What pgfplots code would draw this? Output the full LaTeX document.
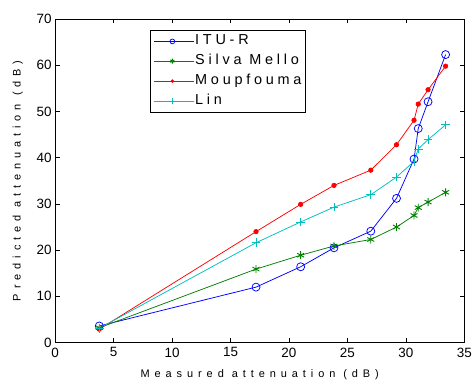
\documentclass[border=0pt]{standalone}
\usepackage{pgfplots}
\pgfplotsset{compat=1.18}
\usepackage{fontspec}
\setmainfont{Liberation Sans}
\newfontfamily\legfont[LetterSpace=26]{Liberation Sans}
\newfontfamily\labfont[LetterSpace=45]{Liberation Sans}
\definecolor{mblue}{rgb}{0,0,1}
\definecolor{mgreen}{rgb}{0,0.5,0}
\definecolor{mred}{rgb}{1,0,0}
\definecolor{mcyan}{rgb}{0,0.75,0.75}
\begin{document}
\begin{tikzpicture}
\begin{axis}[
  scale only axis,
  width=409.1bp, height=323.6bp,
  xmin=0, xmax=35, ymin=0, ymax=70,
  xtick={0,5,...,35}, ytick={0,10,...,70},
  tick align=inside,
  major tick length=4.5bp,
  every tick/.style={black, line width=0.6pt},
  axis line style={black, line width=0.9pt},
  /pgf/number format/assume math mode=true,
  tick label style={font=\fontsize{13.5}{15}\selectfont},
  xticklabel style={yshift=-1.5bp},
  xlabel={Measured attenuation (dB)},
  ylabel={Predicted attenuation (dB)},
  xlabel style={font=\labfont\fontsize{11}{12}\selectfont, at={(rel axis cs:0.5,-0.1094)}, anchor=base},
  ylabel style={font=\labfont\fontsize{11}{12}\selectfont, at={(rel axis cs:-0.0844,0.5)}, anchor=base},
  legend style={font=\legfont\fontsize{14.5}{16}\selectfont, draw=black, line width=0.9pt,
    at={(0.2318,0.966)}, anchor=north west, inner xsep=3bp, inner ysep=3.5bp,
    row sep=4.5bp, nodes={inner sep=1bp, text depth=3bp}},
  legend cell align=left,
  legend image code/.code={\draw[mark repeat=2, mark phase=2, every mark/.append style={scale=0.6}] plot coordinates {(0bp,0bp) (18.5bp,0bp) (37bp,0bp)}; \path (0bp,0bp) -- (40bp,0bp);},
]
\addplot[mblue, line width=0.75pt, mark=o, mark size=4bp, mark options={line width=0.75pt}] coordinates {
(3.77,3.6) (17.18,12.0) (21.0,16.4) (23.85,20.5) (27.0,24.1) (29.2,31.2) (30.7,39.7) (31.06,46.3) (31.9,52.1) (33.4,62.3)};
\addlegendentry{ITU-R}
\addplot[mgreen, line width=0.75pt, mark=asterisk, mark size=4bp, mark options={line width=0.9pt}] coordinates {
(3.77,3.2) (17.18,15.9) (21.0,18.9) (23.85,20.9) (27.0,22.3) (29.2,25.0) (30.7,27.5) (31.06,29.2) (31.9,30.4) (33.4,32.5)};
\addlegendentry{Silva Mello}
\addplot[mred, line width=0.75pt, mark=*, mark size=2.2bp, mark options={fill=mred, draw=mred}] coordinates {
(3.77,2.9) (17.18,24.0) (21.0,29.9) (23.85,34.0) (27.0,37.3) (29.2,42.8) (30.7,48.1) (31.06,51.6) (31.9,54.7) (33.4,59.8)};
\addlegendentry{Moupfouma}
\addplot[mcyan, line width=0.75pt, mark=+, mark size=4.3bp, mark options={line width=0.75pt}] coordinates {
(3.77,3.1) (17.18,21.6) (21.0,26.1) (23.85,29.3) (27.0,32.0) (29.2,35.8) (30.7,39.2) (31.06,41.9) (31.9,43.9) (33.4,47.1)};
\addlegendentry{Lin}
\end{axis}
\pgfresetboundingbox
\path ([shift={(-55.2bp,-38.4bp)}]current axis.south west) rectangle ([shift={(10.7bp,19bp)}]current axis.north east);
\end{tikzpicture}
\end{document}
